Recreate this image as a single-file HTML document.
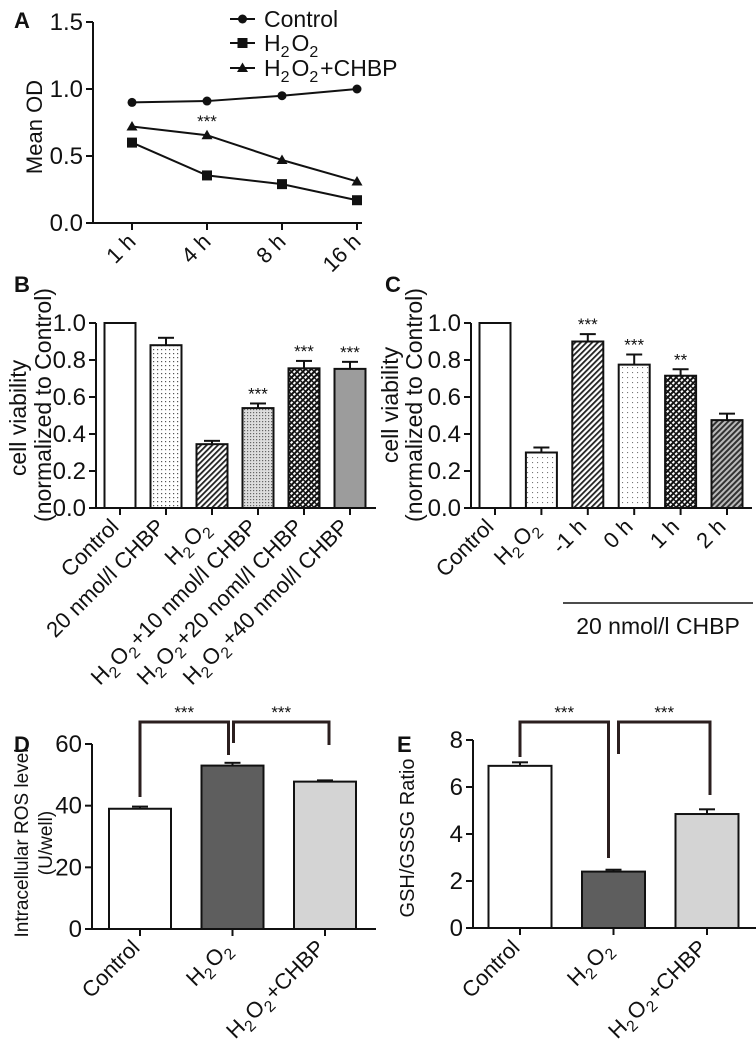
<!DOCTYPE html>
<html><head><meta charset="utf-8"><style>
html,body{margin:0;padding:0;background:#fff;}
svg{display:block;font-family:"Liberation Sans",Arial,sans-serif;}
</style></head><body>
<svg id="fig" width="756" height="1050" viewBox="0 0 756 1050" xmlns="http://www.w3.org/2000/svg">
<defs>
<pattern id="pDots" width="4" height="4" patternUnits="userSpaceOnUse"><rect width="4" height="4" fill="#fff"/><rect x="1" y="1" width="1.2" height="1.2" fill="#555"/></pattern>
<pattern id="pDotsLight" width="5" height="5" patternUnits="userSpaceOnUse"><rect width="5" height="5" fill="#fff"/><rect x="2" y="2" width="1.1" height="1.1" fill="#777"/></pattern>
<pattern id="pDotsDense" width="3" height="3" patternUnits="userSpaceOnUse"><rect width="3" height="3" fill="#ddd"/><rect x="1" y="1" width="1.2" height="1.2" fill="#666"/></pattern>
<pattern id="pDiag" width="4" height="4" patternUnits="userSpaceOnUse" patternTransform="rotate(45)"><rect width="4" height="4" fill="#fff"/><rect width="1.8" height="4" fill="#222"/></pattern>
<pattern id="pDiagGray" width="4" height="4" patternUnits="userSpaceOnUse" patternTransform="rotate(45)"><rect width="4" height="4" fill="#bbb"/><rect width="2" height="4" fill="#333"/></pattern>
<pattern id="pCross" width="4" height="4" patternUnits="userSpaceOnUse" patternTransform="rotate(45)"><rect width="4" height="4" fill="#fff"/><rect width="2" height="4" fill="#111"/><rect width="4" height="1.4" fill="#111"/></pattern>
</defs>
</svg>
<script>
// ---- Panel A data ----
const aCategories = ["1 h","4 h","8 h","16 h"];
const aControl = [0.90, 0.91, 0.95, 1.00];
const aH2O2 = [0.60, 0.355, 0.29, 0.17];
const aCHBP = [0.72, 0.655, 0.47, 0.31];
const aTicks = ["0.0","0.5","1.0","1.5"];
// ---- Panel B data ----
const bCategories = ["Control","20 nmol/l CHBP","H_2O_2","H_2O_2+10 nmol/l CHBP","H_2O_2+20 noml/l CHBP","H_2O_2+40 nmol/l CHBP"];
const bValues = [1.0, 0.88, 0.345, 0.54, 0.755, 0.752];
const bErrors = [0, 0.04, 0.018, 0.025, 0.04, 0.038];
const bStars = ["","","","***","***","***"];
const bTicks = ["0.0","0.2","0.4","0.6","0.8","1.0"];
// ---- Panel C data ----
const cCategories = ["Control","H_2O_2","-1 h","0 h","1 h","2 h"];
const cValues = [1.0, 0.30, 0.90, 0.775, 0.715, 0.475];
const cErrors = [0, 0.027, 0.04, 0.055, 0.035, 0.035];
const cStars = ["","","***","***","**",""];
const cTicks = ["0.0","0.2","0.4","0.6","0.8","1.0"];
// ---- Panel D data ----
const dCategories = ["Control","H_2O_2","H_2O_2+CHBP"];
const dValues = [39.0, 53.0, 47.8];
const dErrors = [0.7, 0.9, 0.4];
const dTicks = ["0","20","40","60"];
// ---- Panel E data ----
const eCategories = ["Control","H_2O_2","H_2O_2+CHBP"];
const eValues = [6.9, 2.4, 4.85];
const eErrors = [0.15, 0.08, 0.2];
const eTicks = ["0","2","4","6","8"];

const NS = "http://www.w3.org/2000/svg";
const svg = document.getElementById("fig");
function mk(tag, attrs, parent){
  const e = document.createElementNS(NS, tag);
  for (const k in attrs) e.setAttribute(k, attrs[k]);
  (parent||svg).appendChild(e);
  return e;
}
function rich(t, str, sub){
  const parts = str.split(/(_\d)/);
  parts.forEach(p=>{
    if(!p) return;
    if(p[0]==="_"){
      const s = mk("tspan",{"font-size":sub,"dy":6},t); s.textContent=p[1];
      const r = mk("tspan",{"dy":-6},t); r.textContent="\u200a";
    } else { const s = mk("tspan",{},t); s.textContent=p; }
  });
}
function line(x1,y1,x2,y2,w,col,parent){
  return mk("line",{x1:x1,y1:y1,x2:x2,y2:y2,stroke:col||"#111","stroke-width":w||2},parent);
}
function panelLabel(txt,x,y){
  const t = mk("text",{x:x,y:y,"font-size":22,"font-weight":"bold",fill:"#111"});
  t.textContent = txt;
  
  
}
function yAxis(g, ax, y0, y1, ticks, yScale, vals, fs){
  const l = line(ax, yScale(vals[vals.length-1]), ax, y0, 2, "#111", g);
  
  
  ticks.forEach((tk,i)=>{
    const yy = yScale(vals[i]);
    line(ax-7, yy, ax, yy, 2, "#111", g);
    const t = mk("text",{x:ax-10,y:yy+8,"font-size":fs,"text-anchor":"end",fill:"#111"},g);
    t.textContent = tk;
    
    
  });
}
function xLabels(g, cats, xs, y, fs, dx){
  cats.forEach((c,i)=>{
    const x = xs[i]+dx;
    const t = mk("text",{x:x,y:y,"font-size":fs,"text-anchor":"end",fill:"#111",transform:"rotate(-45 "+x+" "+y+")"},g);
    rich(t, c, fs*0.72);
    
    
  });
}
function yTitle(g, txt, x, y, fs){
  const t = mk("text",{x:x,y:y,"font-size":fs,"text-anchor":"middle",fill:"#111",transform:"rotate(-90 "+x+" "+y+")"},g);
  t.textContent = txt;
  
  
}
function bars(g, xs, vals, errs, w, yScale, fills, stars, y0){
  vals.forEach((v,i)=>{
    const yt = yScale(v);
    const r = mk("rect",{x:xs[i]-w/2,y:yt,width:w,height:y0-yt,fill:fills[i],stroke:"#111","stroke-width":2},g);
    
    
    if (errs[i]>0){
      const ye = yScale(v+errs[i]);
      line(xs[i], yt, xs[i], ye, 2, "#111", g);
      const cap = line(xs[i]-8, ye, xs[i]+8, ye, 2, "#111", g);
      
      
    }
    if (stars && stars[i]){
      const st = mk("text",{x:xs[i],y:yScale(v+errs[i])-4,"font-size":17,"text-anchor":"middle",fill:"#111"},g);
      st.textContent = stars[i];
      
      
    }
  });
}

// ================= Panel A =================
(function(){
  const g = mk("g",{});
  
  
  panelLabel("A", 14, 28);
  const ax=93, y0=223, x0=132, dxp=75;
  const yS = v => y0 - v*134;
  const xS = i => x0 + i*dxp;
  yAxis(g, ax, y0, 22, aTicks, yS, [0,0.5,1.0,1.5], 24);
  const xl = line(88, y0, 362, y0, 2, "#111", g);
  
  
  const xs = aCategories.map((c,i)=>xS(i));
  xs.forEach(x=>line(x,y0,x,y0+7,2,"#111",g));
  xLabels(g, aCategories, xs, 243, 22, 5);
  yTitle(g, "Mean OD", 42, 127, 22);
  const series = [[aControl,"circle","control"],[aH2O2,"square","h2o2"],[aCHBP,"triangle","h2o2-chbp"]];
  series.forEach(s=>{
    const pts = s[0].map((v,i)=>xS(i)+","+yS(v)).join(" ");
    const pl = mk("polyline",{points:pts,fill:"none",stroke:"#111","stroke-width":2},g);
    
    
    s[0].forEach((v,i)=>{
      const x=xS(i), y=yS(v);
      let m;
      if(s[1]==="circle") m = mk("circle",{cx:x,cy:y,r:4.5,fill:"#111"},g);
      else if(s[1]==="square") m = mk("rect",{x:x-5,y:y-5,width:10,height:10,fill:"#111"},g);
      else m = mk("polygon",{points:(x-5.5)+","+(y+4)+" "+(x+5.5)+","+(y+4)+" "+x+","+(y-5.5),fill:"#111"},g);
      
      
    });
  });
  const st = mk("text",{x:xS(1),y:yS(aCHBP[1])-8,"font-size":17,"text-anchor":"middle",fill:"#111"},g);
  st.textContent="***";
  
  
  const lg = mk("g",{},g);
  
  
  const labels = ["Control","H_2O_2","H_2O_2+CHBP"];
  const ly = [19, 43, 68];
  ["circle","square","triangle"].forEach((m,i)=>{
    const y = ly[i];
    line(230, y, 255, y, 2, "#111", lg);
    const x = 242.5;
    if(m==="circle") mk("circle",{cx:x,cy:y,r:4.5,fill:"#111"},lg);
    else if(m==="square") mk("rect",{x:x-5,y:y-5,width:10,height:10,fill:"#111"},lg);
    else mk("polygon",{points:(x-5.5)+","+(y+4)+" "+(x+5.5)+","+(y+4)+" "+x+","+(y-5.5),fill:"#111"},lg);
    const t = mk("text",{x:264,y:y+8,"font-size":23,fill:"#111"},lg);
    rich(t, labels[i], 16);
    
    
  });
})();

// ================= Panel B =================
(function(){
  const g = mk("g",{});
  
  
  panelLabel("B", 14, 292);
  const ax=96, y0=508;
  const yS = v => y0 - v*185;
  const xs = bCategories.map((c,i)=>120 + i*46);
  bars(g, xs, bValues, bErrors, 31, yS, ["#fff","url(#pDots)","url(#pDiag)","url(#pDotsDense)","url(#pCross)","#9c9c9c"], bStars, y0);
  yAxis(g, ax, y0, 323, bTicks, yS, [0,0.2,0.4,0.6,0.8,1.0], 24);
  const xl = line(91, y0, 376, y0, 2, "#111", g);
  
  
  xs.forEach(x=>line(x,y0,x,y0+7,2,"#111",g));
  xLabels(g, bCategories, xs, 528, 22, 0);
  yTitle(g, "cell viability", 26, 418, 23);
  yTitle(g, "(normalized to Control)", 51, 405, 23);
})();

// ================= Panel C =================
(function(){
  const g = mk("g",{});
  
  
  panelLabel("C", 385, 292);
  const ax=471, y0=508;
  const yS = v => y0 - v*185;
  const xs = cCategories.map((c,i)=>495 + i*46.4);
  bars(g, xs, cValues, cErrors, 31, yS, ["#fff","url(#pDotsLight)","url(#pDiag)","url(#pDotsLight)","url(#pCross)","url(#pDiagGray)"], cStars, y0);
  yAxis(g, ax, y0, 323, cTicks, yS, [0,0.2,0.4,0.6,0.8,1.0], 24);
  const xl = line(466, y0, 752, y0, 2, "#111", g);
  
  
  xs.forEach(x=>line(x,y0,x,y0+7,2,"#111",g));
  xLabels(g, cCategories, xs, 528, 22, 0);
  yTitle(g, "cell viability", 398, 405, 23);
  yTitle(g, "(normalized to Control)", 422, 405, 23);
  const ul = line(563, 603, 753, 603, 1.5, "#111", g);
  
  
  const t = mk("text",{x:658,y:634,"font-size":23,"text-anchor":"middle",fill:"#111"},g);
  t.textContent = "20 nmol/l CHBP";
  
  
})();

function bracket(g, xa, xb, top, ya, yb){
  const p = mk("polyline",{points:xa+","+ya+" "+xa+","+top+" "+xb+","+top+" "+xb+","+yb,fill:"none",stroke:"#2b1f1f","stroke-width":3},g);
  
  
  const t = mk("text",{x:(xa+xb)/2,y:top-4,"font-size":17,"text-anchor":"middle",fill:"#111"},g);
  t.textContent = "***";
  
  
}

// ================= Panel D =================
(function(){
  const g = mk("g",{});
  
  
  panelLabel("D", 14, 752);
  const ax=92, y0=929;
  const yS = v => y0 - v*185/60;
  const xs = dCategories.map((c,i)=>140 + i*92.5);
  bars(g, xs, dValues, dErrors, 62, yS, ["#fff","#5e5e5e","#d4d4d4"], null, y0);
  yAxis(g, ax, y0, 744, dTicks, yS, [0,20,40,60], 24);
  const xl = line(87, y0, 376, y0, 2, "#111", g);
  
  
  xs.forEach(x=>line(x,y0,x,y0+7,2,"#111",g));
  xLabels(g, dCategories, xs, 949, 22, 1);
  yTitle(g, "Intracellular ROS level", 28, 843, 19);
  yTitle(g, "(U/well)", 52, 843, 19);
  bracket(g, xs[0], xs[1]-4, 722, 797, 755);
  bracket(g, xs[1]+1, xs[2]+4, 722, 743, 745);
})();

// ================= Panel E =================
(function(){
  const g = mk("g",{});
  
  
  panelLabel("E", 397, 752);
  const ax=473, y0=928;
  const yS = v => y0 - v*23.5;
  const xs = eCategories.map((c,i)=>520 + i*93.5);
  bars(g, xs, eValues, eErrors, 63, yS, ["#fff","#5e5e5e","#d4d4d4"], null, y0);
  yAxis(g, ax, y0, 740, eTicks, yS, [0,2,4,6,8], 24);
  const xl = line(468, y0, 756, y0, 2, "#111", g);
  
  
  xs.forEach(x=>line(x,y0,x,y0+7,2,"#111",g));
  xLabels(g, eCategories, xs, 949, 22, 1);
  yTitle(g, "GSH/GSSG Ratio", 414, 838, 20);
  bracket(g, xs[0], xs[1]-5, 722, 757, 858);
  bracket(g, xs[1]+5, xs[2]+3, 722, 754, 795);
})();
</script>
</body></html>
